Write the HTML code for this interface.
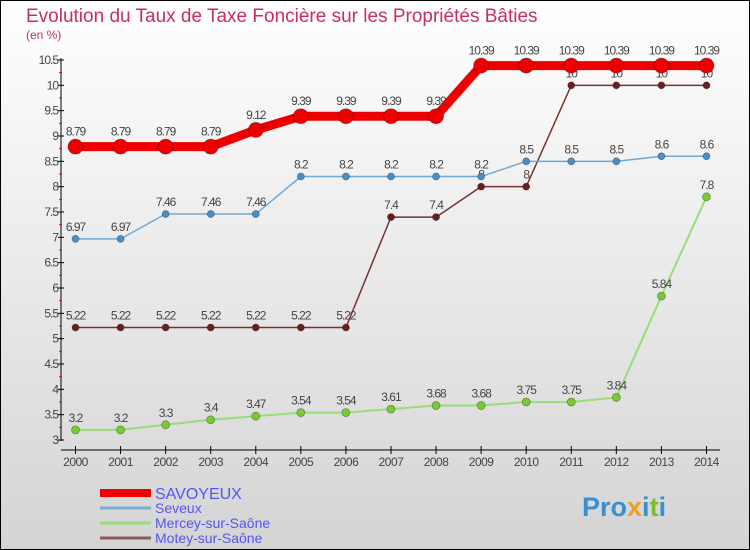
<!DOCTYPE html>
<html><head><meta charset="utf-8"><style>
body{margin:0;width:750px;height:550px;overflow:hidden;font-family:"Liberation Sans",sans-serif}
svg{display:block}
</style></head><body>
<svg id="c" width="750" height="550">
<defs><linearGradient id="bg" x1="0" y1="0" x2="0" y2="1"><stop offset="0" stop-color="#ffffff"/><stop offset="1" stop-color="#d4d4d4"/></linearGradient></defs>
<rect x="0.5" y="0.5" width="749" height="549" fill="url(#bg)" stroke="#000"/>
<text x="26" y="22" font-size="19" fill="#c8305a">Evolution du Taux de Taxe Foncière sur les Propriétés Bâties</text>
<text x="26" y="39" font-size="12" fill="#c8305a">(en %)</text>
<g id="axes"></g><g id="series"></g>
<text x="582" y="516" font-size="27" font-weight="bold" fill="#3a8fd0">Pro<tspan fill="#f0a020">x</tspan>i<tspan fill="#7ac030">t</tspan>i</text>
</svg>
<script>
const years=[2000,2001,2002,2003,2004,2005,2006,2007,2008,2009,2010,2011,2012,2013,2014];
const savoyeux=[8.79,8.79,8.79,8.79,9.12,9.39,9.39,9.39,9.39,10.39,10.39,10.39,10.39,10.39,10.39];
const seveux=[6.97,6.97,7.46,7.46,7.46,8.2,8.2,8.2,8.2,8.2,8.5,8.5,8.5,8.6,8.6];
const mercey=[3.2,3.2,3.3,3.4,3.47,3.54,3.54,3.61,3.68,3.68,3.75,3.75,3.84,5.84,7.8];
const motey=[5.22,5.22,5.22,5.22,5.22,5.22,5.22,7.4,7.4,8,8,10,10,10,10];
const yTicks=[3,3.5,4,4.5,5,5.5,6,6.5,7,7.5,8,8.5,9,9.5,10,10.5];
const NS="http://www.w3.org/2000/svg";
const X=i=>75.5+i*45.07;
const Y=v=>440-(v-3)*(380/7.5);
function mk(t,a,p){const e=document.createElementNS(NS,t);for(const k in a)e.setAttribute(k,a[k]);p.appendChild(e);return e;}
const ax=document.getElementById('axes'),sr=document.getElementById('series');
let e=mk('line',{x1:61,y1:58,x2:61,y2:441,stroke:'#000'},ax);

e=mk('line',{x1:61,y1:450,x2:720,y2:450,stroke:'#000'},ax);

yTicks.forEach(v=>{const y=Y(v);
mk('line',{x1:58,y1:y,x2:64,y2:y,stroke:'#000'},ax);
if(v<10.5)mk('line',{x1:59,y1:Y(v+0.25),x2:62,y2:Y(v+0.25),stroke:'#f00'},ax);
const t=mk('text',{x:58,y:y+4,'font-size':12,'text-anchor':'end',fill:'#444','letter-spacing':'-1'},ax);t.textContent=v;
});
years.forEach((yr,i)=>{const x=X(i);
mk('line',{x1:x,y1:446,x2:x,y2:454,stroke:'#000'},ax);
const t=mk('text',{x:x,y:466,'font-size':12,'text-anchor':'middle',fill:'#444','letter-spacing':'-0.5'},ax);t.textContent=yr;
});
function series(vals,color,dot,w,r,name){
const g=mk('g',{},sr);
const p=mk('polyline',{points:vals.map((v,i)=>X(i)+','+Y(v)).join(' '),fill:'none',stroke:color,'stroke-width':w},g);

vals.forEach((v,i)=>{const c=mk('circle',{cx:X(i),cy:Y(v),r:r,fill:dot,stroke:'rgba(0,0,0,0.35)','stroke-width':0.8},g);

const t=mk('text',{x:X(i),y:Y(v)-8-(r>5?3:0),'font-size':12,'text-anchor':'middle',fill:'#444','letter-spacing':'-1'},g);t.textContent=v;
});}
series(mercey,'#99dd77','#77cc33',2,4,'mercey');
series(motey,'#7a3030','#6a1f1f',1.5,3.5,'motey');
series(seveux,'#6fa8d6','#4a90c8',1.5,3.5,'seveux');
series(savoyeux,'#ee0000','#ee0000',9,7.5,'savoyeux');
const leg=[['SAVOYEUX','#ee0000',8,16],['Seveux','#7aaed0',3,14],['Mercey-sur-Saône','#99dd77',3,14],['Motey-sur-Saône','#8a5a5a',3,14]];
leg.forEach((l,i)=>{const y=493+i*15;
const g=mk('g',{},ax);
mk('line',{x1:100,y1:y,x2:151,y2:y,stroke:l[1],'stroke-width':l[2]},g);
const t=mk('text',{x:155,y:y+(i==0?6:5),'font-size':l[3],fill:'#5555ee'},g);t.textContent=l[0];
});
</script>
</body></html>
